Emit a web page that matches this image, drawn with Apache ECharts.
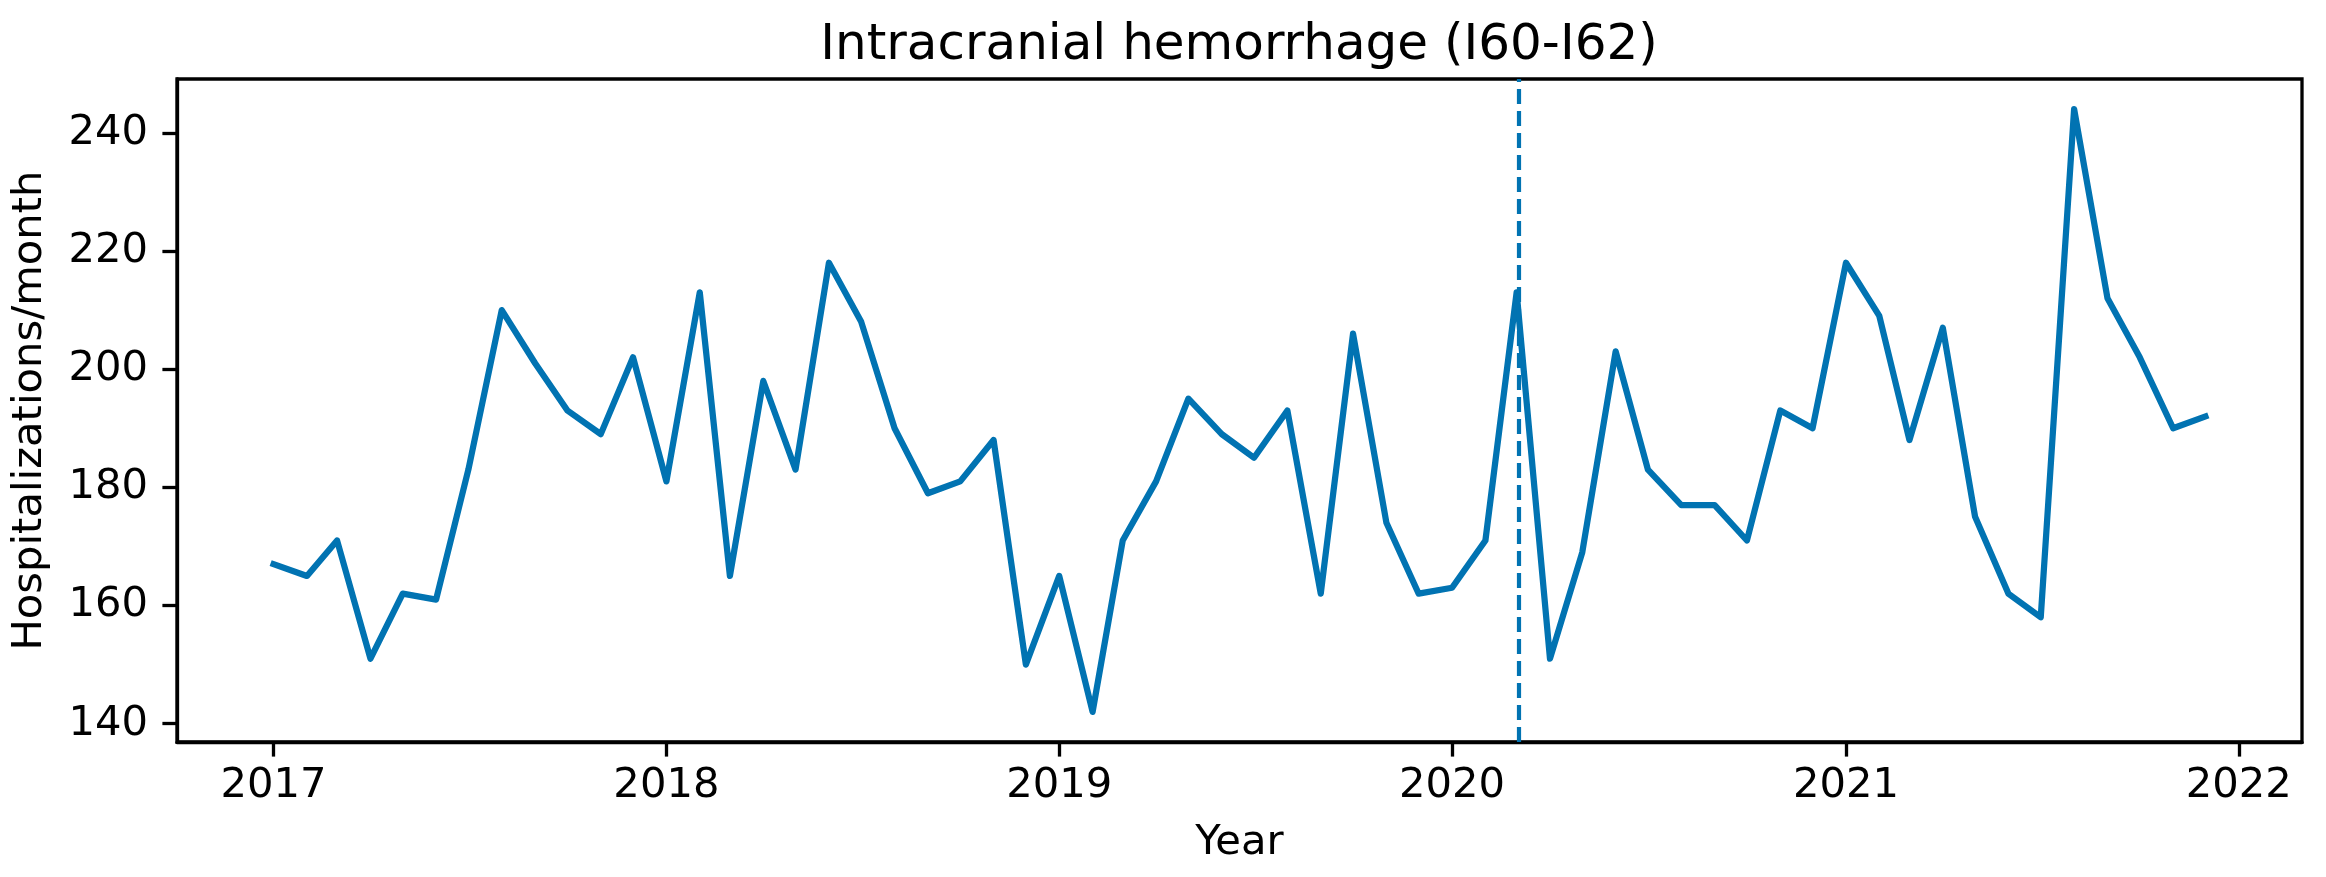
<!DOCTYPE html>
<html>
<head>
<meta charset="utf-8">
<script src="https://cdn.jsdelivr.net/npm/echarts@6/dist/echarts.min.js"></script>
<style>
  html, body { margin: 0; padding: 0; background: #fff; }
  #chart { width: 2326px; height: 877px; }
</style>
</head>
<body>
<div id="chart"></div>
<script>
// monthly hospitalizations, Jan..Dec of each year
var y2017 = [167, 165, 171, 151, 162, 161, 183, 210, 201, 193, 189, 202];
var y2018 = [181, 213, 165, 198, 183, 218, 208, 190, 179, 181, 188, 150];
var y2019 = [165, 142, 171, 181, 195, 189, 185, 193, 162, 206, 174, 162];
var y2020 = [163, 171, 213, 151, 169, 203, 183, 177, 177, 171, 193, 190];
var y2021 = [218, 209, 188, 207, 175, 162, 158, 244, 212, 202, 190, 192];

var years = [2017, 2018, 2019, 2020, 2021];
var yearTicks = [2017, 2018, 2019, 2020, 2021, 2022];
var yTicks = [140, 160, 180, 200, 220, 240];
var cutDate = [2020, 2, 3]; // dashed marker (early March 2020)

var color = '#0173B2';
var font = 'DejaVu Sans';

var seriesData = [];
[y2017, y2018, y2019, y2020, y2021].forEach(function (vals, k) {
    vals.forEach(function (v, m) {
        seriesData.push([new Date(years[k], m, 1).getTime(), v]);
    });
});

var xTickValues = yearTicks.map(function (y) { return new Date(y, 0, 1).getTime(); });

// matplotlib-like 5% margins
var xFirst = seriesData[0][0], xLast = seriesData[seriesData.length - 1][0];
var xPad = (xLast - xFirst) * 0.05;
var vals = seriesData.map(function (d) { return d[1]; });
var vMin = Math.min.apply(null, vals), vMax = Math.max.apply(null, vals);
var yPad = (vMax - vMin) * 0.05;

var chart = echarts.init(document.getElementById('chart'));
chart.setOption({
    backgroundColor: '#fff',
    animation: false,
    title: {
        text: 'Intracranial hemorrhage (I60-I62)',
        left: 1239,
        textAlign: 'center',
        top: 21,
        padding: 0,
        textStyle: { fontFamily: font, fontSize: 50, fontWeight: 'normal', color: '#000' }
    },
    grid: {
        left: 177, right: 24, top: 79, bottom: 135,
        show: true, borderColor: '#000', borderWidth: 3.3, backgroundColor: 'transparent'
    },
    xAxis: {
        type: 'value',
        min: xFirst - xPad,
        max: xLast + xPad,
        name: 'Year',
        nameLocation: 'middle',
        nameGap: 80,
        nameTextStyle: { fontFamily: font, fontSize: 41.7, color: '#000' },
        splitLine: { show: false },
        axisLine: { lineStyle: { color: '#000', width: 3.3 } },
        axisTick: {
            show: true, length: 14.6, inside: false,
            lineStyle: { color: '#000', width: 3.3 },
            customValues: xTickValues
        },
        axisLabel: {
            fontFamily: font, fontSize: 41.7, color: '#000', margin: 23,
            customValues: xTickValues,
            formatter: function (v) { return String(new Date(v).getFullYear()); }
        }
    },
    yAxis: {
        type: 'value',
        min: vMin - yPad,
        max: vMax + yPad,
        name: 'Hospitalizations/month',
        nameLocation: 'middle',
        nameGap: 126,
        nameTextStyle: { fontFamily: font, fontSize: 41.7, color: '#000' },
        splitLine: { show: false },
        axisLine: { show: true, lineStyle: { color: '#000', width: 3.3 } },
        axisTick: {
            show: true, length: 14.6, inside: false,
            lineStyle: { color: '#000', width: 3.3 },
            customValues: yTicks
        },
        axisLabel: {
            fontFamily: font, fontSize: 41.7, color: '#000', margin: 29,
            customValues: yTicks
        }
    },
    series: [{
        type: 'line',
        data: seriesData,
        showSymbol: false,
        symbol: 'none',
        lineStyle: { color: color, width: 6.25, join: 'round', cap: 'square' },
        markLine: {
            silent: true,
            symbol: 'none',
            label: { show: false },
            lineStyle: { color: color, width: 4.2, type: [15, 7] },
            data: [{ xAxis: new Date(cutDate[0], cutDate[1], cutDate[2]).getTime() }]
        }
    }]
});
</script>
</body>
</html>
